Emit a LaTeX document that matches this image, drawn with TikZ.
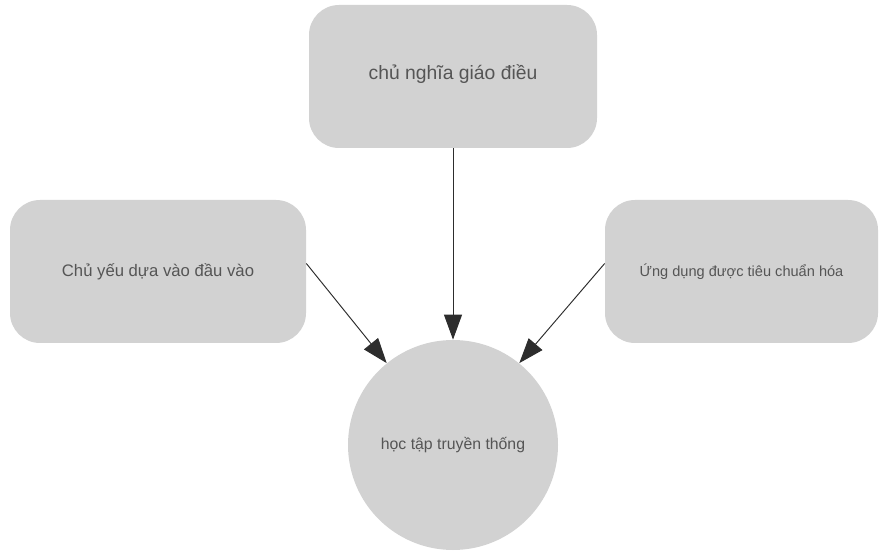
\documentclass[tikz,border=0pt]{standalone}
\usepackage{fontspec}
\setmainfont{Liberation Sans}
\usepackage{xcolor}
\usetikzlibrary{arrows.meta}
\definecolor{boxgray}{RGB}{210,210,210}
\definecolor{textgray}{RGB}{85,85,85}
\definecolor{linegray}{RGB}{45,45,45}

\begin{document}
\begin{tikzpicture}[every node/.style={text=textgray},
  box/.style={fill=boxgray, rounded corners=0.6cm, minimum height=2.86cm},
  link/.style={-{Triangle[length=0.5cm, width=0.36cm]}, linegray, line width=0.55pt}]
\useasboundingbox (0,0) rectangle (17.76,11);
% Sources
\node[box, minimum width=5.76cm, font=\fontsize{11}{13}\selectfont, text depth=0.18cm] (T) at (9.06, 9.47) {chủ nghĩa giáo điều};
\node[box, minimum width=5.92cm, font=\fontsize{9.5}{11}\selectfont] (L) at (3.16, 5.57) {Chủ yếu dựa vào đầu vào};
\node[box, minimum width=5.46cm, font=\fontsize{8.3}{10}\selectfont] (R) at (14.83, 5.57) {Ứng dụng được tiêu chuẩn hóa};

% Target
\node[circle, fill=boxgray, minimum size=4.2cm, font=\fontsize{9}{11}\selectfont] (C) at (9.06, 2.1) {học tập truyền thống};

% Arrows
\draw[link] (T.south) -- (C.north);
\draw[link] ([yshift=0.16cm]L.east) -- (C.129);
\draw[link] ([yshift=0.16cm]R.west) -- (C.51);
\end{tikzpicture}
\end{document}
